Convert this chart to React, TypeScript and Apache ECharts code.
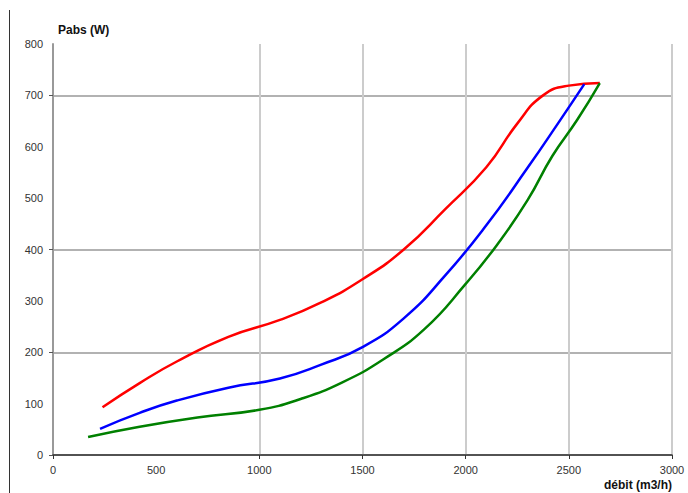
import React, { useEffect, useRef } from "react";
import * as echarts from "echarts";

const xTickValues = [0, 1000, 1500, 2000, 2500, 3000];
const xLabelValues = [0, 500, 1000, 1500, 2000, 2500, 3000];
const yTickValues = [0, 200, 400, 700];
const yLabelValues = [0, 100, 200, 300, 400, 500, 600, 700, 800];

const redSeries: [number, number][] = [
  [240, 93], [420, 140], [600, 182], [850, 230], [1100, 263], [1300, 297],
  [1500, 342], [1700, 400], [1900, 478], [2100, 560], [2250, 645],
  [2375, 700], [2500, 719], [2650, 724],
];
const blueSeries: [number, number][] = [
  [228, 51], [420, 82], [600, 106], [850, 131], [1100, 149], [1300, 176],
  [1500, 210], [1700, 266], [1900, 349], [2100, 447], [2300, 559],
  [2450, 647], [2575, 722],
];
const greenSeries: [number, number][] = [
  [170, 35], [420, 55], [700, 73], [1000, 88], [1200, 109], [1400, 141],
  [1600, 186], [1800, 245], [2000, 333], [2150, 408], [2300, 496],
  [2420, 582], [2540, 652], [2650, 724],
];

const font = "Liberation Sans, Arial, sans-serif";

export default function App() {
  const ref = useRef<HTMLDivElement>(null);
  useEffect(() => {
    if (!ref.current) return;
    const chart = echarts.init(ref.current, null, { renderer: "svg" });
    const lineSeries = (data: [number, number][], color: string) => ({
      type: "line",
      data,
      smooth: 0.5,
      showSymbol: false,
      lineStyle: { color, width: 2.5 },
    });
    chart.setOption({
      animation: false,
      backgroundColor: "#ffffff",
      grid: { left: 53, right: 16, top: 44, bottom: 38, containLabel: false },
      xAxis: {
        type: "value",
        min: 0,
        max: 3000,
        axisLine: { show: true, onZero: false, lineStyle: { color: "#333", width: 1.5 } },
        axisTick: { show: true, length: 4, customValues: xTickValues, lineStyle: { color: "#333" } },
        axisLabel: {
          customValues: xLabelValues,
          formatter: (v: number) => String(v),
          color: "#333",
          fontSize: 11,
          fontFamily: font,
          margin: 9,
        },
        splitLine: { show: true, lineStyle: { color: "#cccccc", width: 2 } },
      },
      yAxis: {
        type: "value",
        min: 0,
        max: 800,
        axisLine: { show: true, onZero: false, lineStyle: { color: "#999", width: 2 } },
        axisTick: { show: true, length: 4, customValues: yTickValues, lineStyle: { color: "#555" } },
        axisLabel: {
          customValues: yLabelValues,
          formatter: (v: number) => String(v),
          color: "#333",
          fontSize: 11,
          fontFamily: font,
          margin: 10,
        },
        splitLine: { show: true, lineStyle: { color: "#999999", width: 1.5 } },
      },
      graphic: [
        {
          type: "line",
          shape: { x1: 9.5, y1: 10, x2: 9.5, y2: 493 },
          style: { stroke: "#333", lineWidth: 1 },
        },
        {
          type: "text",
          left: 58,
          top: 24,
          style: { text: "Pabs (W)", font: `bold 12px ${font}`, fill: "#111" },
        },
        {
          type: "text",
          right: 16,
          top: 479,
          style: { text: "débit (m3/h)", font: `bold 12px ${font}`, fill: "#111" },
        },
      ],
      series: [
        lineSeries(redSeries, "#ff0000"),
        lineSeries(blueSeries, "#0000ff"),
        lineSeries(greenSeries, "#008000"),
      ],
    });
    return () => chart.dispose();
  }, []);
  return <div ref={ref} style={{ width: 688, height: 493, position: "absolute", left: 0, top: 0 }} />;
}
